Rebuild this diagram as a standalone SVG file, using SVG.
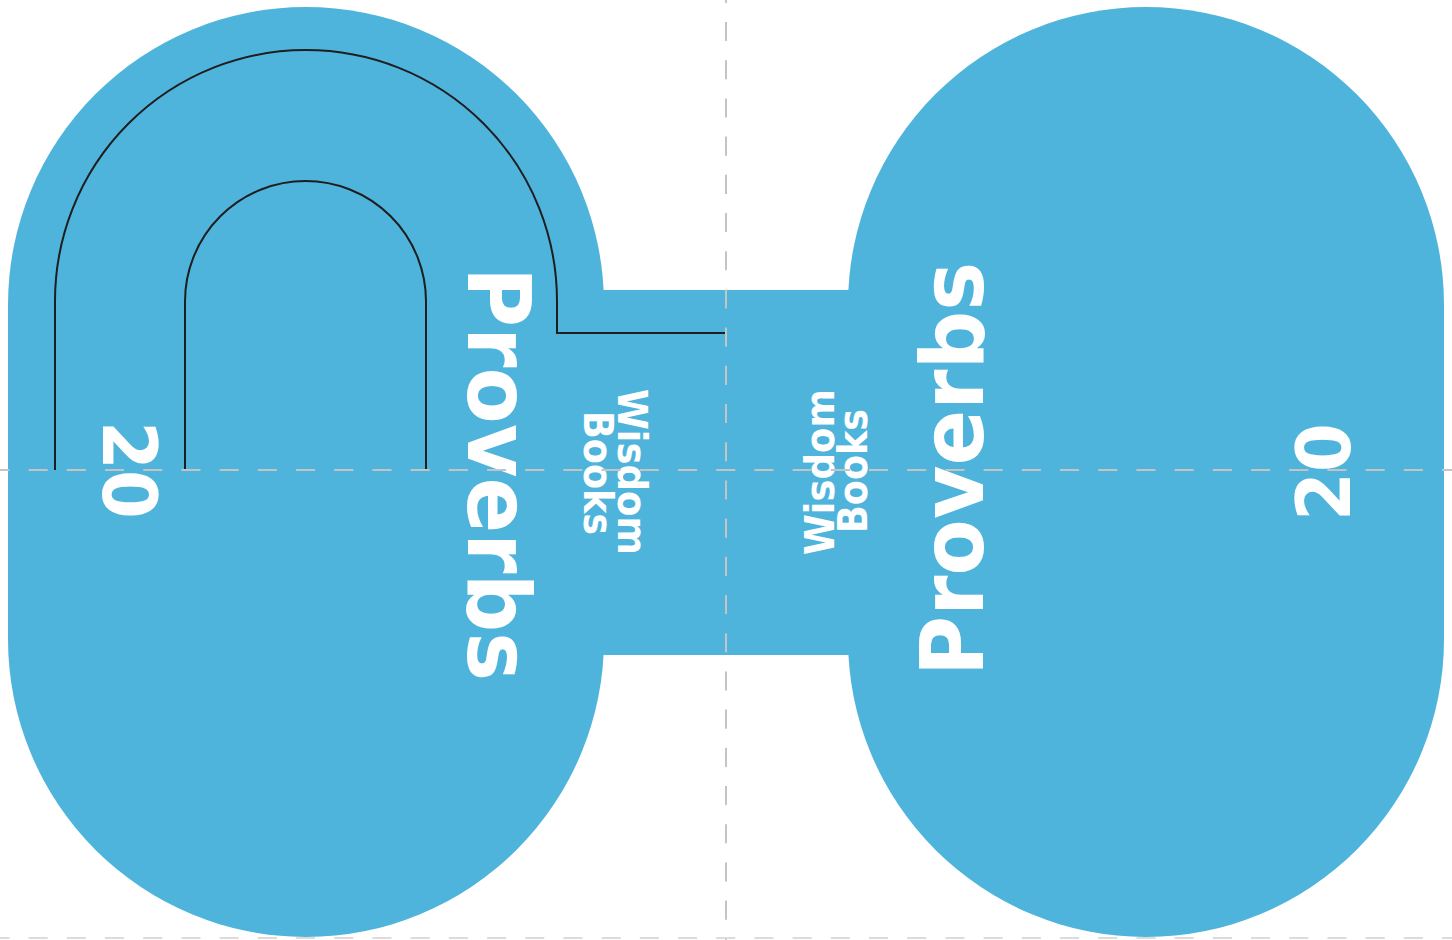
<svg xmlns="http://www.w3.org/2000/svg" width="1452" height="940" viewBox="0 0 1452 940">
<style>
.blue{fill:#4fb4dc}
.ln{fill:none;stroke:#1e1e1e;stroke-width:2}
.t{fill:#fff;font-family:"DejaVu Sans",sans-serif;font-weight:bold}
.dash{stroke:#c4c4c4;stroke-width:2;stroke-dasharray:19.1 19.1;fill:none}
.dash2{stroke:#dcdcdc;stroke-width:2;stroke-dasharray:19.1 19.1;fill:none}
</style>
<rect width="1452" height="940" fill="#fff"/>
<g id="shape">
<rect class="blue" x="8" y="7" width="596" height="930" rx="298" ry="298"/>
<rect class="blue" x="848" y="7" width="596" height="930" rx="298" ry="298"/>
<rect class="blue" x="603" y="290" width="246" height="365"/>
</g>
<g id="connectors">
<path class="ln" d="M55,470 V301 A251,251 0 0 1 557,301 V333 H726"/>
<path class="ln" d="M185,470 V301.5 A120.5,120.5 0 0 1 426,301.5 V470"/>
</g>
<g id="left-text">
<text class="t" font-size="88" text-anchor="middle" textLength="414" lengthAdjust="spacingAndGlyphs" transform="translate(468,474) rotate(90)">Proverbs</text>
<text class="t" font-size="40" text-anchor="middle" textLength="166" lengthAdjust="spacingAndGlyphs" transform="translate(618,472) rotate(90)">Wisdom</text>
<text class="t" font-size="40" text-anchor="middle" textLength="124" lengthAdjust="spacingAndGlyphs" transform="translate(584,473) rotate(90)">Books</text>
<text class="t" font-size="74" text-anchor="middle" textLength="98" lengthAdjust="spacingAndGlyphs" transform="translate(103,470) rotate(90)">20</text>
</g>
<g id="right-text">
<text class="t" font-size="88" text-anchor="middle" textLength="414" lengthAdjust="spacingAndGlyphs" transform="translate(983,469) rotate(-90)">Proverbs</text>
<text class="t" font-size="40" text-anchor="middle" textLength="166" lengthAdjust="spacingAndGlyphs" transform="translate(834,472) rotate(-90)">Wisdom</text>
<text class="t" font-size="40" text-anchor="middle" textLength="124" lengthAdjust="spacingAndGlyphs" transform="translate(867,471) rotate(-90)">Books</text>
<text class="t" font-size="74" text-anchor="middle" textLength="98" lengthAdjust="spacingAndGlyphs" transform="translate(1350,472) rotate(-90)">20</text>
</g>
<g id="guides">
<line class="dash" x1="-9.6" y1="470" x2="1460" y2="470"/>
<line class="dash" x1="726" y1="-16.2" x2="726" y2="950"/>
<line class="dash2" x1="-9.6" y1="938" x2="1460" y2="938"/>
</g>
</svg>
